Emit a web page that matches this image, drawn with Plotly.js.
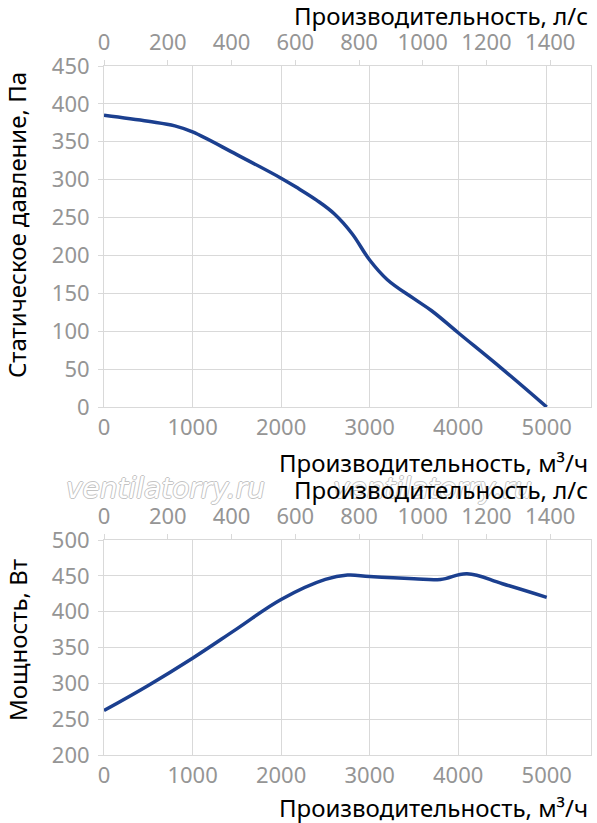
<!DOCTYPE html>
<html>
<head>
<meta charset="utf-8">
<script src="https://cdn.plot.ly/plotly-3.0.1.min.js"></script>
<style>
  html, body { margin: 0; padding: 0; background: #ffffff; }
  #chart { width: 597px; height: 823px; }
</style>
</head>
<body>
<div id="chart"></div>
<script>
// ---- Data ----
// Static pressure curve
const flowPressure = [0, 500, 800, 1000, 1500, 2000, 2200, 2400, 2600, 2800, 3000, 3200, 3500, 3700, 4000, 4500, 5000]; // m³/h
const pressure     = [385, 377, 371, 363, 333, 302, 288, 273, 255, 229, 194, 168, 143, 127, 98, 50, 0];          // Pa
// Power curve
const flowPower = [0, 500, 1000, 1500, 2000, 2500, 2750, 3000, 3500, 3800, 4100, 4500, 5000]; // m³/h
const power     = [262, 297, 335, 376, 417, 445, 451, 449, 446, 445, 453, 439, 420];          // W

// Axis tick labels
const ticksM3h = [0, 1000, 2000, 3000, 4000, 5000];
const ticksLs  = [0, 200, 400, 600, 800, 1000, 1200, 1400];
const ticksPa  = [0, 50, 100, 150, 200, 250, 300, 350, 400, 450];
const ticksW   = [200, 250, 300, 350, 400, 450, 500];

// Text
const titleLs  = 'Производительность, л/с';
const titleM3h = 'Производительность, м³/ч';
const titlePa  = 'Статическое давление, Па';
const titleW   = 'Мощность, Вт';
const watermark = 'ventilatorry.ru';

const M3H_PER_LS = 3.6;
const xMax = 5500;

// ---- Styling ----
const FONT = 'Noto Sans, Open Sans, DejaVu Sans, sans-serif';
const lineColor = '#1b3f8f';
const gridColor = '#d9d9d9';
const tickFontColor = '#959595';
const tickFont = { family: FONT, size: 22, color: tickFontColor };
const titleFont = { family: FONT, size: 24, color: '#000000' };

const traces = [
  { x: flowPressure, y: pressure, xaxis: 'x', yaxis: 'y', type: 'scatter', mode: 'lines',
    line: { color: lineColor, width: 3.5, shape: 'spline', smoothing: 1.1 }, hoverinfo: 'skip' },
  // invisible companion trace so the l/s axis is drawn
  { x: flowPressure.map(v => v / M3H_PER_LS), y: pressure, xaxis: 'x2', yaxis: 'y', type: 'scatter',
    mode: 'markers', marker: { opacity: 0 }, hoverinfo: 'skip' },
  { x: flowPower, y: power, xaxis: 'x3', yaxis: 'y2', type: 'scatter', mode: 'lines',
    line: { color: lineColor, width: 3.5, shape: 'spline', smoothing: 1.1 }, hoverinfo: 'skip' },
  { x: flowPower.map(v => v / M3H_PER_LS), y: power, xaxis: 'x4', yaxis: 'y2', type: 'scatter',
    mode: 'markers', marker: { opacity: 0 }, hoverinfo: 'skip' }
];

function bottomAxis(anchor) {
  return {
    anchor: anchor, range: [0, xMax], tickvals: ticksM3h, ticktext: ticksM3h.map(String),
    showgrid: true, gridcolor: gridColor, gridwidth: 1, zeroline: false,
    showline: true, linecolor: gridColor, linewidth: 1, mirror: true,
    ticks: '', tickfont: tickFont, ticklabelstandoff: 1, fixedrange: true
  };
}
function topAxis(overlay, anchor) {
  return {
    overlaying: overlay, anchor: anchor, side: 'top', range: [0, xMax / M3H_PER_LS],
    tickvals: ticksLs, ticktext: ticksLs.map(String),
    showgrid: false, zeroline: false, showline: false,
    ticks: 'outside', ticklen: 5, tickwidth: 1, tickcolor: gridColor,
    tickfont: tickFont, ticklabelstandoff: 1, fixedrange: true
  };
}
function leftAxis(domain, range, vals) {
  return {
    domain: domain, range: range, tickvals: vals, ticktext: vals.map(String),
    showgrid: true, gridcolor: gridColor, gridwidth: 1, zeroline: false,
    showline: true, linecolor: gridColor, linewidth: 1, mirror: true,
    ticks: 'outside', ticklen: 5, tickwidth: 1, tickcolor: gridColor,
    tickfont: tickFont, ticklabelstandoff: 4, fixedrange: true
  };
}

// pixel -> paper helpers (plot area: x 104..591, y 66..755)
const L = 104, R = 591, T = 66, B = 755;
const px = v => (v - L) / (R - L);
const py = v => (B - v) / (B - T);

const wmFont = { family: 'DejaVu Sans, sans-serif', size: 28, color: '#ffffff',
  style: 'italic', shadow: '1px 0 #c4c4c4, -1px 0 #c4c4c4, 0 1px #c4c4c4, 0 -1px #c4c4c4' };

const annotations = [
  { text: watermark, xref: 'paper', yref: 'paper', x: px(165), y: py(488), xanchor: 'center', yanchor: 'middle', showarrow: false, font: wmFont },
  { text: watermark, xref: 'paper', yref: 'paper', x: px(432), y: py(488), xanchor: 'center', yanchor: 'middle', showarrow: false, font: wmFont },
  { text: titleLs,  xref: 'paper', yref: 'paper', x: px(590), y: py(16),  xanchor: 'right', yanchor: 'middle', showarrow: false, font: titleFont },
  { text: titleM3h, xref: 'paper', yref: 'paper', x: px(590), y: py(462), xanchor: 'right', yanchor: 'middle', showarrow: false, font: titleFont },
  { text: titleLs,  xref: 'paper', yref: 'paper', x: px(590), y: py(489), xanchor: 'right', yanchor: 'middle', showarrow: false, font: titleFont },
  { text: titleM3h, xref: 'paper', yref: 'paper', x: px(590), y: py(807), xanchor: 'right', yanchor: 'middle', showarrow: false, font: titleFont },
  { text: titlePa,  xref: 'paper', yref: 'paper', x: px(17),  y: py(225), xanchor: 'center', yanchor: 'middle', textangle: -90, showarrow: false, font: titleFont },
  { text: titleW,   xref: 'paper', yref: 'paper', x: px(17),  y: py(640), xanchor: 'center', yanchor: 'middle', textangle: -90, showarrow: false, font: titleFont }
];

const layout = {
  width: 597, height: 823,
  margin: { l: L, r: 597 - R, t: T, b: 823 - B, pad: 0 },
  paper_bgcolor: '#ffffff', plot_bgcolor: '#ffffff',
  showlegend: false,
  font: { family: FONT },
  xaxis: bottomAxis('y'),
  xaxis2: topAxis('x', 'y'),
  xaxis3: bottomAxis('y2'),
  xaxis4: topAxis('x3', 'y2'),
  yaxis: leftAxis([py(407), 1], [0, 450], ticksPa),
  yaxis2: Object.assign(leftAxis([0, py(540)], [200, 500], ticksW), { anchor: 'x3' }),
  annotations: annotations
};
layout.yaxis.anchor = 'x';

Plotly.newPlot('chart', traces, layout, { staticPlot: true, displayModeBar: false });
</script>
</body>
</html>
